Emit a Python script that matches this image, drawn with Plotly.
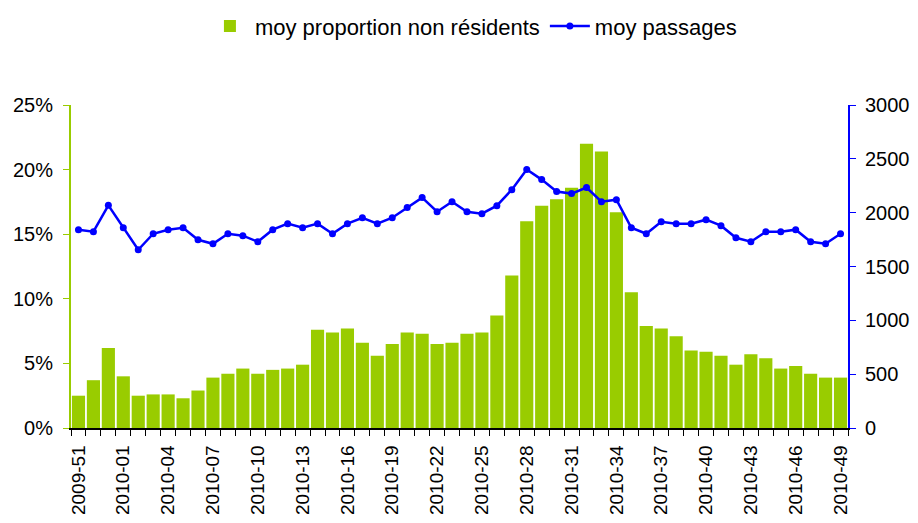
import plotly.graph_objects as go

weeks = ["2009-51", "2009-52", "2009-53"] + ["2010-%02d" % w for w in range(1, 50)]

proportion = [2.5, 3.7, 6.2, 4.0, 2.5, 2.6, 2.6, 2.3, 2.9, 3.9,
              4.2, 4.6, 4.2, 4.5, 4.6, 4.9, 7.6, 7.4, 7.7, 6.6,
              5.6, 6.5, 7.4, 7.3, 6.5, 6.6, 7.3, 7.4, 8.7, 11.8,
              16.0, 17.2, 17.7, 18.6, 22.0, 21.4, 16.7, 10.5, 7.9, 7.7,
              7.1, 6.0, 5.9, 5.6, 4.9, 5.7, 5.4, 4.6, 4.8, 4.2,
              3.9, 3.9]

passages = [1842, 1823, 2068, 1860, 1655, 1804, 1842, 1860, 1748, 1711,
            1804, 1786, 1730, 1842, 1898, 1860, 1898, 1804, 1898, 1953,
            1898, 1953, 2047, 2140, 2009, 2102, 2009, 1991, 2065, 2214,
            2401, 2307, 2196, 2177, 2233, 2102, 2121, 1860, 1804, 1916,
            1898, 1898, 1935, 1879, 1767, 1730, 1823, 1823, 1842, 1730,
            1711, 1804]

tick_labels = [w if i % 3 == 0 else "" for i, w in enumerate(weeks)]

font = "Liberation Sans, Arial, sans-serif"

fig = go.Figure()
fig.add_trace(go.Bar(x=weeks, y=proportion, name="moy proportion non résidents",
                     marker=dict(color="#99CC00", line=dict(width=0))))
fig.add_trace(go.Scatter(x=weeks, y=passages, name="moy passages", yaxis="y2",
                         mode="lines+markers",
                         line=dict(color="#0000FF", width=2.5),
                         marker=dict(color="#0000FF", size=7)))

# page body has an 8px margin: figure is made smaller and margins shifted
fig.update_layout(
    width=902, height=507,
    paper_bgcolor="white", plot_bgcolor="white",
    margin=dict(l=63, r=62, t=97, b=87),
    font=dict(family=font, size=20, color="black"),
    bargap=0.12,
    showlegend=True,
    legend=dict(orientation="h", xref="container", yref="container",
                x=0.516, y=0.964, xanchor="center", yanchor="middle",
                font=dict(size=22), itemwidth=40),
    xaxis=dict(type="category", tickvals=weeks, ticktext=tick_labels,
               range=[-0.5, len(weeks) - 0.5],
               tickangle=-90, tickson="boundaries", ticks="outside",
               ticklen=6, tickcolor="black", showline=True,
               linecolor="black", linewidth=1.5, showgrid=False,
               ticklabelstandoff=8,
               automargin=False, tickfont=dict(size=19)),
    yaxis=dict(range=[0, 25], dtick=5, ticksuffix="%", showgrid=False,
               showline=True, linecolor="#99CC00", linewidth=2,
               ticks="outside", ticklen=6, tickcolor="#99CC00",
               ticklabelstandoff=6,
               zeroline=False, automargin=False, tickfont=dict(size=20)),
    yaxis2=dict(range=[0, 3000], dtick=500, overlaying="y", side="right",
                showgrid=False, showline=True, linecolor="#0000FF",
                linewidth=2, ticks="outside", ticklen=6,
                tickcolor="#0000FF", ticklabelstandoff=5,
                zeroline=False, automargin=False,
                tickfont=dict(size=20)),
)

fig.write_html("out.html")
